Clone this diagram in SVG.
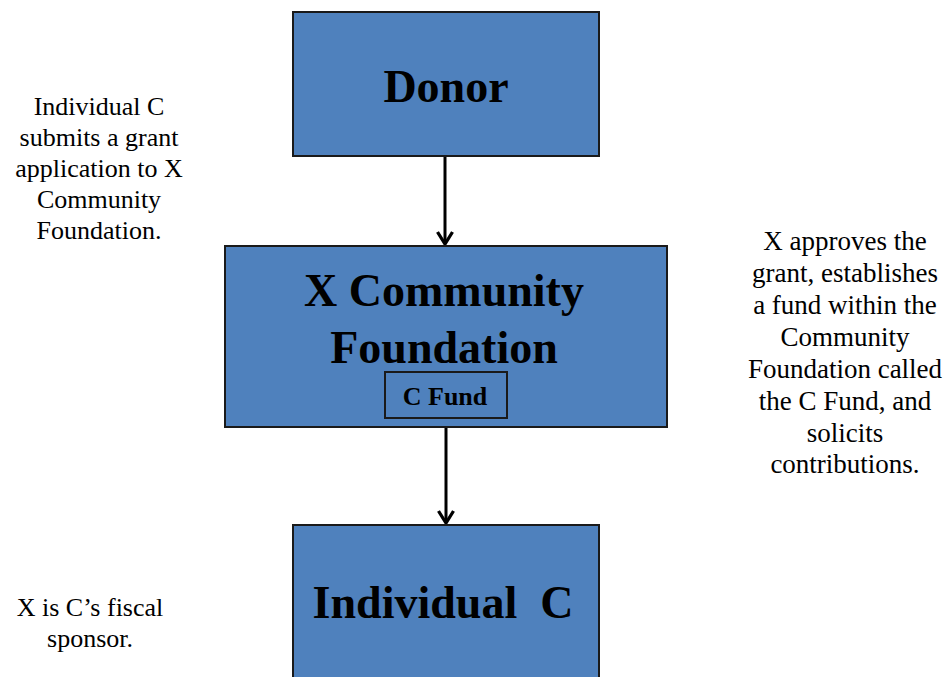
<svg xmlns="http://www.w3.org/2000/svg" width="943" height="677" viewBox="0 0 943 677">
  <style>
    .box { fill: #4f81bd; stroke: #1a1a1a; stroke-width: 2; }
    .inner { fill: none; stroke: #1a1a1a; stroke-width: 2; }
    .title { font-family: "Liberation Serif", "Times New Roman", serif; font-weight: bold; font-size: 46px; fill: #000; text-anchor: middle; }
    .small { font-family: "Liberation Serif", "Times New Roman", serif; font-weight: bold; font-size: 26px; fill: #000; text-anchor: middle; }
    .note { font-family: "Liberation Serif", "Times New Roman", serif; font-size: 26px; fill: #000; text-anchor: middle; }
    .note-wide { font-size: 27px; }
    .link { stroke: #000; stroke-width: 3; fill: none; }
  </style>
  <defs>
    <marker id="arrow" viewBox="0 0 12 12" refX="10" refY="6" markerWidth="6" markerHeight="6" markerUnits="strokeWidth" orient="auto">
      <path d="M2,1 L10,6 L2,11" fill="none" stroke="#000" stroke-width="2.2"/>
    </marker>
  </defs>
  <rect width="943" height="677" fill="#fff"/>

  <g id="connectors">
    <line class="link" x1="445" y1="156" x2="445" y2="244" marker-end="url(#arrow)"/>
    <line class="link" x1="446" y1="427" x2="446" y2="523" marker-end="url(#arrow)"/>
  </g>

  <g id="donor">
    <rect class="box" x="293" y="12" width="306" height="144"/>
    <text class="title" x="446" y="102">Donor</text>
  </g>

  <g id="community-foundation">
    <rect class="box" x="225" y="246" width="442" height="181"/>
    <text class="title" x="444" y="306">X Community</text>
    <text class="title" x="444" y="363">Foundation</text>
    <g id="c-fund">
      <rect class="inner" x="385" y="372" width="122" height="46"/>
      <text class="small" x="445" y="405">C Fund</text>
    </g>
  </g>

  <g id="individual-c">
    <rect class="box" x="293" y="525" width="306" height="160"/>
    <text class="title" x="443" y="618" xml:space="preserve">Individual  C</text>
  </g>

  <g id="note-application">
    <text class="note" x="99" y="115">Individual C</text>
    <text class="note" x="99" y="146">submits a grant</text>
    <text class="note" x="99" y="177">application to X</text>
    <text class="note" x="99" y="208">Community</text>
    <text class="note" x="99" y="239">Foundation.</text>
  </g>

  <g id="note-approval">
    <text class="note note-wide" x="845" y="250">X approves the</text>
    <text class="note note-wide" x="845" y="282">grant, establishes</text>
    <text class="note note-wide" x="845" y="314">a fund within the</text>
    <text class="note note-wide" x="845" y="346">Community</text>
    <text class="note note-wide" x="845" y="378">Foundation called</text>
    <text class="note note-wide" x="845" y="410">the C Fund, and</text>
    <text class="note note-wide" x="845" y="442">solicits</text>
    <text class="note note-wide" x="845" y="473">contributions.</text>
  </g>

  <g id="note-sponsor">
    <text class="note" x="90" y="616">X is C’s fiscal</text>
    <text class="note" x="90" y="647">sponsor.</text>
  </g>
</svg>
